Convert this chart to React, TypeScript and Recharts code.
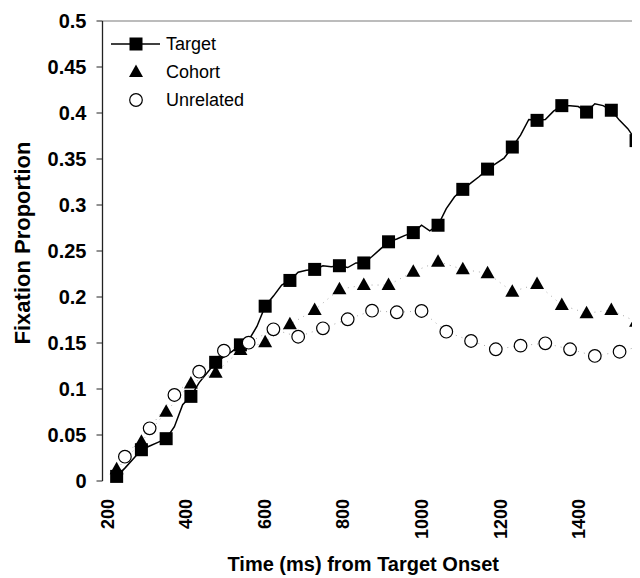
import { ComposedChart, Line, XAxis, YAxis, ReferenceLine } from 'recharts';

const FONT = '"Liberation Sans", Arial, sans-serif';

// fine time bins (ms) of the target curve; markers sit on every 3rd bin
const targetTimes = [
  224, 245, 266, 287, 308, 329, 350, 371, 392, 413,
  434, 455, 476, 497, 518, 539, 560, 581, 602, 623,
  644, 665, 686, 707, 728, 749, 770, 791, 812, 833,
  853, 874, 895, 916, 937, 958, 979, 1000, 1021, 1042,
  1063, 1084, 1105, 1126, 1147, 1168, 1189, 1210, 1231, 1252,
  1273, 1294, 1315, 1336, 1357, 1378, 1399, 1420, 1441, 1462,
  1483, 1504, 1525, 1546, 1567,
];
const targetProps = [
  0.005, 0.014, 0.024, 0.034, 0.038, 0.042, 0.046, 0.059, 0.083, 0.092,
  0.107, 0.118, 0.129, 0.135, 0.141, 0.148, 0.153, 0.168, 0.19, 0.201,
  0.213, 0.218, 0.227, 0.229, 0.23, 0.234, 0.233, 0.234, 0.232, 0.237,
  0.237, 0.244, 0.252, 0.26, 0.263, 0.267, 0.27, 0.278, 0.272, 0.278,
  0.296, 0.309, 0.317, 0.324, 0.331, 0.339, 0.345, 0.351, 0.363, 0.376,
  0.393, 0.392, 0.393, 0.402, 0.408, 0.408, 0.407, 0.401, 0.41, 0.408,
  0.403, 0.392, 0.383, 0.37, 0.362,
];

const cohortTimes = [
  224, 287, 350, 413, 476, 539, 602, 665, 728, 791, 853,
  916, 979, 1042, 1105, 1168, 1231, 1294, 1357, 1420, 1483, 1546,
];
const cohortProps = [
  0.0127, 0.0427, 0.0753, 0.106, 0.1177, 0.1424, 0.1508, 0.1703, 0.1859, 0.2084, 0.213,
  0.213, 0.2275, 0.2384, 0.2301, 0.2258, 0.2058, 0.2141, 0.1913, 0.1823, 0.1859, 0.1732,
];

const unrelatedTimes = [
  245, 308, 371, 434, 497, 560, 623, 686, 749, 812, 874,
  937, 1000, 1063, 1126, 1189, 1252, 1315, 1378, 1441, 1504, 1567,
];
const unrelatedProps = [
  0.0264, 0.0573, 0.0935, 0.1188, 0.1416, 0.1503, 0.1649, 0.1568, 0.166, 0.1758, 0.1851,
  0.1834, 0.1848, 0.1623, 0.1522, 0.1432, 0.1471, 0.1497, 0.1432, 0.1359, 0.1405, 0.1478,
];

const seriesNames = ['Target', 'Cohort', 'Unrelated'];

const minorTicks = [
  188, 230, 273, 315, 357, 399, 442, 484, 526, 568, 611, 653, 695, 737, 780, 822, 864,
  906, 949, 991, 1033, 1075, 1118, 1160, 1202, 1244, 1287, 1329, 1371, 1413, 1456, 1498, 1540,
];
const xLabels = [200, 400, 600, 800, 1000, 1200, 1400];
const yTicks = [0, 0.05, 0.1, 0.15, 0.2, 0.25, 0.3, 0.35, 0.4, 0.45, 0.5];
const X_DOMAIN = [188, 1556];

const target = targetTimes.map((t, i) => ({ t, v: targetProps[i] }));
const cohort = cohortTimes.map((t, i) => ({ t, v: cohortProps[i] }));
const unrelated = unrelatedTimes.map((t, i) => ({ t, v: unrelatedProps[i] }));

function marker(kind: number, cx: number, cy: number, key?: string) {
  if (kind === 0) return <rect key={key} x={cx - 6.5} y={cy - 6.5} width={13} height={13} fill="#000" />;
  if (kind === 1)
    return (
      <polygon
        key={key}
        points={`${cx},${cy - 7.5} ${cx - 7},${cy + 5} ${cx + 7},${cy + 5}`}
        fill="#000"
      />
    );
  return <circle key={key} cx={cx} cy={cy} r={6.3} fill="#fff" stroke="#000" strokeWidth={1.2} />;
}

const targetDot = (p: any) =>
  p.index % 3 === 0 ? marker(0, p.cx, p.cy, `t${p.index}`) : <g key={`t${p.index}`} />;
const cohortDot = (p: any) => marker(1, p.cx, p.cy, `c${p.index}`);
const unrelatedDot = (p: any) => marker(2, p.cx, p.cy, `u${p.index}`);

function XTick({ x, y, payload }: any) {
  return (
    <text
      transform={`translate(${x + 6.5},${y + 16}) rotate(-90)`}
      textAnchor="end"
      fontFamily={FONT}
      fontWeight="bold"
      fontSize={18}
      fill="#000"
    >
      {payload.value}
    </text>
  );
}

function XTitle({ viewBox }: any) {
  return (
    <text
      x={viewBox.x + viewBox.width / 2 - 8}
      y={viewBox.y + viewBox.height - 7}
      textAnchor="middle"
      fontFamily={FONT}
      fontWeight="bold"
      fontSize={20}
      fill="#000"
    >
      Time (ms) from Target Onset
    </text>
  );
}

function YTitle({ viewBox }: any) {
  const cy = viewBox.y + viewBox.height / 2 - 8;
  return (
    <text
      transform={`translate(21.5,${cy}) rotate(-90)`}
      textAnchor="middle"
      fontFamily={FONT}
      fontWeight="bold"
      fontSize={22}
      fill="#000"
    >
      Fixation Proportion
    </text>
  );
}

// legend sits inside the plot, top-left, like the original
function LegendBox() {
  return (
    <div style={{ position: 'absolute', left: 95, top: 22, fontFamily: FONT, fontSize: 18, color: '#000' }}>
      {seriesNames.map((name, i) => (
        <div key={name} style={{ display: 'flex', alignItems: 'center', height: 28 }}>
          <svg width={63} height={28}>
            {i === 0 && <line x1={8} x2={57} y1={14} y2={14} stroke="#000" strokeWidth={1.5} />}
            {marker(i, 33, 14)}
          </svg>
          <span>{name}</span>
        </div>
      ))}
    </div>
  );
}

export default function App() {
  return (
    <div style={{ position: 'relative', width: 632, height: 570, overflow: 'hidden' }}>
      <ComposedChart width={632} height={570} margin={{ top: 13, right: 0, bottom: 0, left: 0 }}>
        <XAxis
          xAxisId="minor"
          type="number"
          dataKey="t"
          domain={X_DOMAIN}
          allowDataOverflow
          ticks={minorTicks}
          interval={0}
          height={0}
          tickSize={6}
          tick={() => <g />}
          axisLine={{ stroke: '#222', strokeWidth: 1.3 }}
          tickLine={{ stroke: '#222' }}
        />
        <XAxis
          xAxisId="label"
          type="number"
          dataKey="t"
          domain={X_DOMAIN}
          allowDataOverflow
          ticks={xLabels}
          interval={0}
          height={97}
          tickSize={0}
          axisLine={false}
          tickLine={false}
          tick={<XTick />}
          label={<XTitle />}
        />
        <YAxis
          type="number"
          domain={[0, 0.5]}
          ticks={yTicks}
          interval={0}
          width={94.5}
          tickSize={6}
          tickMargin={10}
          axisLine={{ stroke: '#222', strokeWidth: 1.3 }}
          tickLine={{ stroke: '#222' }}
          tick={{ fontFamily: FONT, fontWeight: 'bold', fontSize: 20, fill: '#000' }}
          label={<YTitle />}
        />
        <ReferenceLine xAxisId="minor" y={0.5} stroke="#a6a6a6" strokeWidth={1.3} />
        <Line
          xAxisId="minor"
          name={seriesNames[0]}
          data={target}
          dataKey="v"
          stroke="#000"
          strokeWidth={1.5}
          dot={targetDot}
          activeDot={false}
          isAnimationActive={false}
        />
        <Line
          xAxisId="minor"
          name={seriesNames[1]}
          data={cohort}
          dataKey="v"
          stroke="#aaa"
          strokeWidth={1}
          strokeDasharray="1 5"
          dot={cohortDot}
          activeDot={false}
          isAnimationActive={false}
        />
        <Line
          xAxisId="minor"
          name={seriesNames[2]}
          data={unrelated}
          dataKey="v"
          stroke="#aaa"
          strokeWidth={1}
          strokeDasharray="1 5"
          dot={unrelatedDot}
          activeDot={false}
          isAnimationActive={false}
        />
      </ComposedChart>
      <LegendBox />
    </div>
  );
}
